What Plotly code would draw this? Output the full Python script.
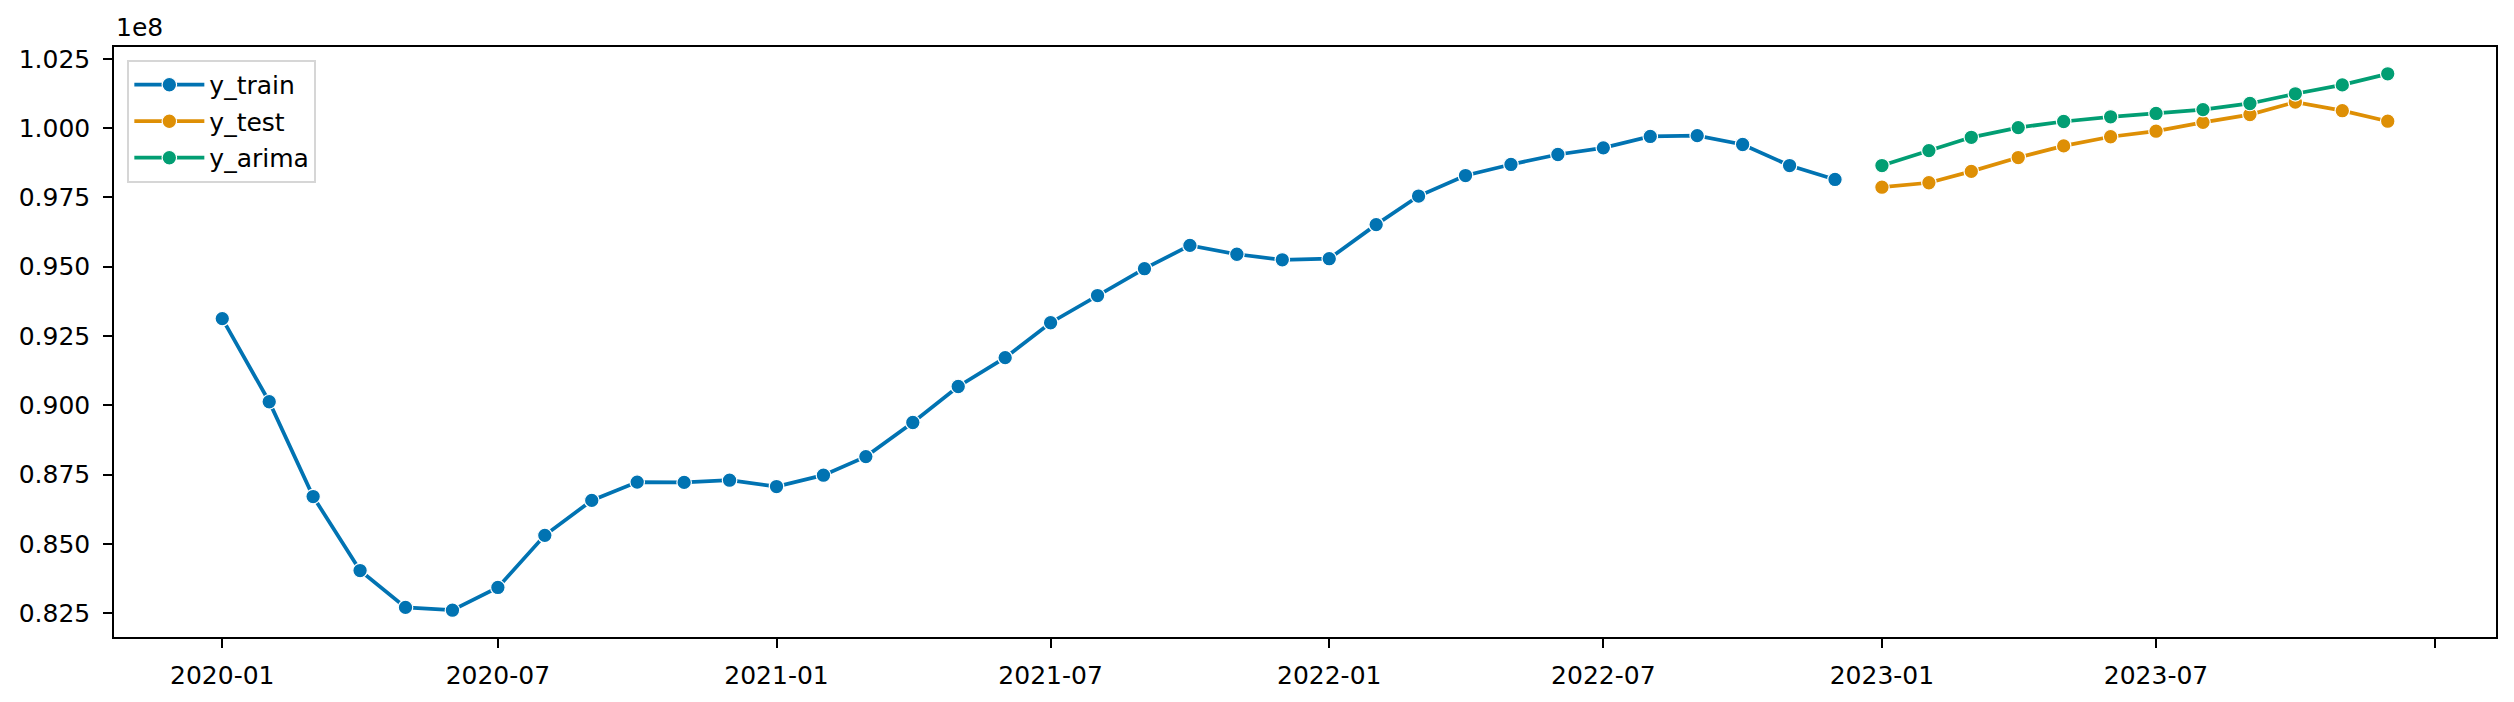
import plotly.graph_objects as go
import pandas as pd

# ---------------- data ----------------
train_dates = [
    "2020-01-01", "2020-02-01", "2020-03-01", "2020-04-01", "2020-05-01", "2020-06-01",
    "2020-07-01", "2020-08-01", "2020-09-01", "2020-10-01", "2020-11-01", "2020-12-01",
    "2021-01-01", "2021-02-01", "2021-03-01", "2021-04-01", "2021-05-01", "2021-06-01",
    "2021-07-01", "2021-08-01", "2021-09-01", "2021-10-01", "2021-11-01", "2021-12-01",
    "2022-01-01", "2022-02-01", "2022-03-01", "2022-04-01", "2022-05-01", "2022-06-01",
    "2022-07-01", "2022-08-01", "2022-09-01", "2022-10-01", "2022-11-01", "2022-12-01",
]
y_train = [
    93130000, 90130000, 86710000, 84040000, 82710000, 82610000,
    83430000, 85310000, 86570000, 87230000, 87220000, 87300000,
    87070000, 87480000, 88150000, 89380000, 90680000, 91720000,
    92980000, 93960000, 94930000, 95770000, 95450000, 95250000,
    95290000, 96520000, 97550000, 98290000, 98690000, 99050000,
    99290000, 99700000, 99730000, 99410000, 98650000, 98150000,
]

test_dates = [
    "2023-01-01", "2023-02-01", "2023-03-01", "2023-04-01", "2023-05-01", "2023-06-01",
    "2023-07-01", "2023-08-01", "2023-09-01", "2023-10-01", "2023-11-01", "2023-12-01",
]
y_test = [
    97870000, 98030000, 98440000, 98940000, 99360000, 99690000,
    99890000, 100210000, 100490000, 100940000, 100630000, 100250000,
]
y_arima = [
    98650000, 99190000, 99670000, 100020000, 100240000, 100410000,
    100530000, 100670000, 100890000, 101240000, 101560000, 101960000,
]

x_tick_dates = ["2020-01-01", "2020-07-01", "2021-01-01", "2021-07-01", "2022-01-01",
                "2022-07-01", "2023-01-01", "2023-07-01", "2024-01-01"]
x_tick_labels = ["2020-01", "2020-07", "2021-01", "2021-07", "2022-01",
                 "2022-07", "2023-01", "2023-07", ""]
y_tick_labels = ["0.825", "0.850", "0.875", "0.900", "0.925", "0.950", "0.975", "1.000", "1.025"]
y_offset_label = "1e8"

series_names = ["y_train", "y_test", "y_arima"]
colors = ["#0173b2", "#de8f05", "#029e73"]

# ---------------- figure ----------------
# the page body has an 8px default margin, so the figure is 8px smaller
W, H = 2506, 694
FONT = "DejaVu Sans"
FS = 25

fig = go.Figure()
for i, (name, xs, ys) in enumerate(zip(series_names,
                                       [train_dates, test_dates, test_dates],
                                       [y_train, y_test, y_arima])):
    fig.add_trace(go.Scatter(
        x=xs, y=ys, name=name, mode="lines+markers",
        line=dict(color=colors[i], width=3.75),
        marker=dict(color=colors[i], size=14.5, line=dict(color="white", width=1.2)),
        legendgroup=name,
    ))

# axis ranges with 5% padding (matplotlib-like margins)
all_dates = pd.to_datetime(train_dates + test_dates)
dmin, dmax = all_dates.min(), all_dates.max()
dpad = (dmax - dmin) * 0.05
all_y = y_train + y_test + y_arima
ymin, ymax = min(all_y), max(all_y)
ypad = (ymax - ymin) * 0.05

fig.update_layout(
    width=W, height=H,
    margin=dict(l=106, r=18, t=39, b=65, autoexpand=False),
    paper_bgcolor="white", plot_bgcolor="white",
    font=dict(family=FONT, size=FS, color="black"),
    showlegend=True,
    legend=dict(
        x=0.0056, y=0.978, xanchor="left", yanchor="top",
        bgcolor="rgba(255,255,255,0.8)", bordercolor="#d6d6d6", borderwidth=2,
        font=dict(family=FONT, size=FS, color="black"),
        tracegroupgap=1, itemwidth=70,
    ),
    xaxis=dict(
        type="date",
        range=[dmin - dpad, dmax + dpad],
        tickmode="array", tickvals=x_tick_dates, ticktext=x_tick_labels,
        showgrid=False, zeroline=False,
        showline=True, linecolor="black", linewidth=2, mirror=True,
        ticks="outside", ticklen=8.75, tickwidth=2, tickcolor="black",
        tickfont=dict(family=FONT, size=FS, color="black"),
        ticklabelstandoff=6,
    ),
    yaxis=dict(
        range=[ymin - ypad, ymax + ypad],
        tickmode="array",
        tickvals=[float(t) * 1e8 for t in y_tick_labels],
        ticktext=y_tick_labels,
        showgrid=False, zeroline=False,
        showline=True, linecolor="black", linewidth=2, mirror=True,
        ticks="outside", ticklen=8.75, tickwidth=2, tickcolor="black",
        tickfont=dict(family=FONT, size=FS, color="black"),
        ticklabelstandoff=8,
    ),
    annotations=[dict(
        text=y_offset_label, xref="paper", yref="paper", x=0, y=1,
        xanchor="left", yanchor="bottom", yshift=3, showarrow=False,
        font=dict(family=FONT, size=FS, color="black"),
    )],
)

fig.write_html("out.html")
